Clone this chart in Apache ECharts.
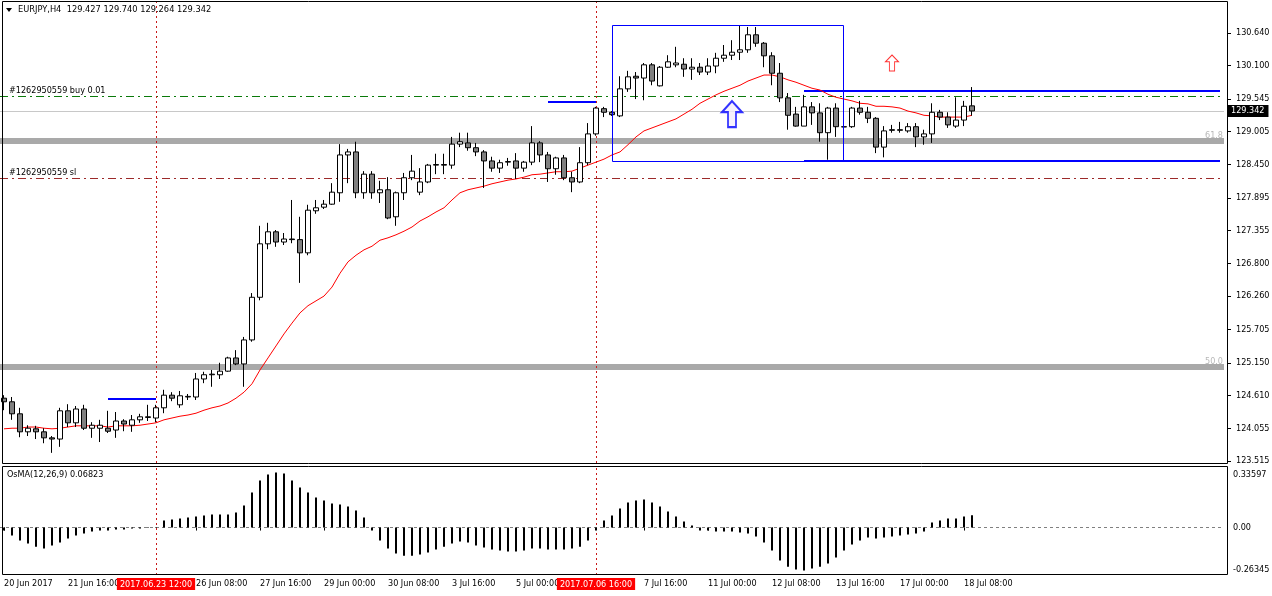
<!DOCTYPE html>
<html><head><meta charset="utf-8">
<script src="https://cdn.jsdelivr.net/npm/echarts@6/dist/echarts.min.js"></script>
<style>html,body{margin:0;padding:0;background:#fff}#c{width:1272px;height:596px}</style>
</head><body><div id="c"></div><script>
// ---- data (EURJPY H4) ----
const opens = [124.56,124.50,124.30,124.00,124.05,124.00,123.90,123.88,124.35,124.15,124.38,124.06,124.06,124.06,124.03,124.18,124.11,124.20,124.25,124.23,
124.40,124.61,124.45,124.58,124.58,124.88,124.95,124.95,125.01,125.23,125.13,125.53,126.24,127.13,127.33,127.16,127.21,127.20,126.98,127.68,
127.74,127.79,127.98,128.61,128.66,127.98,128.29,127.98,128.03,127.58,127.98,128.23,127.99,128.16,128.44,128.45,128.44,128.79,128.81,128.73,
128.66,128.51,128.39,128.49,128.51,128.39,128.49,128.81,128.61,128.38,128.56,128.23,128.16,128.48,128.96,129.38,129.32,129.26,129.71,129.92,
129.89,130.11,129.76,130.07,130.11,130.12,130.04,130.07,129.99,130.09,130.22,130.27,130.32,130.36,130.61,130.47,130.26,129.97,129.56,129.29,
129.09,129.41,129.31,128.98,129.39,129.08,129.08,129.39,129.32,129.22,128.74,129.03,129.02,129.01,129.08,128.91,128.96,129.32,129.24,129.09,
129.19,129.427];
const highs = [124.61,124.58,124.40,124.11,124.10,124.06,123.93,124.40,124.46,124.43,124.45,124.16,124.20,124.35,124.33,124.21,124.28,124.30,124.45,124.45,
124.70,124.66,124.68,124.63,124.98,125.00,125.03,125.15,125.25,125.36,125.58,126.31,127.43,127.48,127.36,127.31,127.86,127.58,127.78,127.86,
127.86,128.14,128.79,128.71,128.83,128.34,128.34,128.18,128.24,128.00,128.31,128.61,128.39,128.46,128.63,128.63,128.91,128.98,128.98,128.81,
128.69,128.58,128.53,128.56,128.64,128.51,129.09,128.84,128.66,128.58,128.61,128.33,128.74,129.14,129.41,129.41,129.34,129.92,130.01,129.99,
130.14,130.14,130.09,130.27,130.41,130.22,130.22,130.14,130.22,130.31,130.44,130.52,130.76,130.74,130.74,130.49,130.32,130.14,129.64,129.41,
129.61,129.49,129.47,129.41,129.47,129.09,129.41,129.51,129.41,129.24,129.09,129.11,129.16,129.14,129.14,129.03,129.47,129.36,129.32,129.57,
129.51,129.740];
const lows = [124.36,124.20,123.91,123.93,123.88,123.81,123.65,123.75,124.08,124.08,124.03,123.90,123.83,123.98,123.90,124.01,124.00,124.15,124.18,124.16,
124.31,124.51,124.40,124.53,124.53,124.81,124.75,124.88,125.00,125.11,124.75,125.50,126.19,127.04,127.08,127.11,127.14,126.48,126.94,127.63,
127.71,127.78,127.83,128.14,127.89,127.88,127.88,127.81,127.54,127.43,127.86,128.19,127.94,128.14,128.29,128.29,128.38,128.74,128.68,128.59,
128.06,128.33,128.31,128.43,128.21,128.33,128.44,128.49,128.16,128.28,128.19,127.99,128.14,128.44,128.93,129.24,129.26,129.24,129.66,129.54,
129.52,129.77,129.75,130.06,130.07,129.91,129.86,129.94,129.94,129.97,130.16,130.19,130.19,130.31,130.41,130.07,129.77,129.49,129.03,129.08,
129.09,129.11,128.83,128.53,128.91,129.06,129.06,129.28,129.14,128.64,128.57,128.98,128.98,128.98,128.74,128.78,128.81,129.19,129.06,129.06,
129.09,129.264];
const closes = [124.50,124.30,124.00,124.06,124.00,123.90,123.88,124.35,124.15,124.38,124.06,124.11,124.11,124.01,124.18,124.13,124.20,124.25,124.24,124.40,
124.61,124.56,124.60,124.59,124.88,124.95,124.96,125.01,125.23,125.13,125.53,126.24,127.13,127.33,127.16,127.21,127.20,126.98,127.69,127.73,
127.79,127.99,128.61,128.66,127.98,128.29,127.98,128.03,127.56,127.98,128.23,128.34,128.16,128.44,128.45,128.44,128.79,128.83,128.73,128.66,
128.51,128.39,128.48,128.50,128.39,128.49,128.81,128.61,128.38,128.56,128.23,128.16,128.48,128.96,129.39,129.32,129.28,129.71,129.91,129.89,
130.11,129.84,130.07,130.16,130.14,130.04,130.07,129.99,130.09,130.22,130.27,130.32,130.36,130.61,130.47,130.26,129.97,129.56,129.27,129.09,
129.41,129.31,128.98,129.39,129.08,129.075,129.39,129.32,129.22,128.74,129.01,129.02,129.03,129.08,128.91,128.96,129.32,129.24,129.11,129.19,
129.42,129.342];
const maValues = [124.05,124.06,124.06,124.08,124.08,124.06,124.05,124.06,124.08,124.10,124.10,124.10,124.10,124.08,124.10,124.10,124.10,124.11,124.13,124.15,
124.20,124.23,124.26,124.28,124.31,124.36,124.40,124.43,124.48,124.56,124.66,124.80,125.03,125.23,125.43,125.63,125.81,125.98,126.10,126.18,
126.26,126.41,126.64,126.83,126.94,127.03,127.09,127.19,127.23,127.28,127.34,127.41,127.51,127.58,127.66,127.73,127.86,127.98,128.03,128.06,
128.09,128.13,128.16,128.19,128.21,128.24,128.28,128.29,128.31,128.33,128.33,128.34,128.39,128.44,128.49,128.54,128.61,128.66,128.78,128.91,
129.01,129.06,129.11,129.16,129.21,129.29,129.37,129.47,129.54,129.61,129.67,129.72,129.77,129.84,129.89,129.94,129.94,129.91,129.86,129.82,
129.77,129.72,129.69,129.62,129.57,129.54,129.51,129.47,129.46,129.42,129.42,129.41,129.39,129.34,129.31,129.27,129.26,129.24,129.24,129.24,
129.24,129.27];
const osmaValues = [-0.017,-0.044,-0.072,-0.089,-0.106,-0.117,-0.100,-0.083,-0.061,-0.044,-0.033,-0.022,-0.017,-0.017,-0.011,-0.011,-0.006,-0.006,-0.002,0.003,
0.039,0.044,0.050,0.056,0.061,0.067,0.072,0.072,0.072,0.083,0.122,0.194,0.261,0.294,0.306,0.300,0.261,0.222,0.194,0.167,
0.150,0.133,0.128,0.117,0.094,0.056,-0.017,-0.072,-0.117,-0.144,-0.156,-0.156,-0.150,-0.139,-0.122,-0.106,-0.089,-0.078,-0.083,-0.100,
-0.111,-0.122,-0.128,-0.133,-0.133,-0.128,-0.117,-0.117,-0.122,-0.122,-0.122,-0.117,-0.106,-0.072,-0.017,0.039,0.067,0.106,0.139,0.150,
0.156,0.139,0.117,0.089,0.061,0.033,0.011,-0.017,-0.017,-0.022,-0.022,-0.022,-0.028,-0.033,-0.050,-0.083,-0.128,-0.183,-0.217,-0.233,
-0.239,-0.228,-0.217,-0.200,-0.167,-0.128,-0.094,-0.072,-0.056,-0.061,-0.056,-0.050,-0.044,-0.039,-0.033,-0.022,0.028,0.039,0.050,0.050,
0.061,0.068];
const timeLabels = {0:'20 Jun 2017',8:'21 Jun 16:00',24:'26 Jun 08:00',32:'27 Jun 16:00',40:'29 Jun 00:00',48:'30 Jun 08:00',
  56:'3 Jul 16:00',64:'5 Jul 00:00',80:'7 Jul 16:00',88:'11 Jul 00:00',96:'12 Jul 08:00',104:'13 Jul 16:00',112:'17 Jul 00:00',120:'18 Jul 08:00'};
const priceTicks = [130.640,130.100,129.545,129.005,128.450,127.895,127.355,126.800,126.260,125.705,125.150,124.610,124.055,123.515];
const osmaTicks = [0.33597,0,-0.26345];
const crosshairBars = ['19','74'];
const crosshairTexts = ['2017.06.23 12:00','2017.07.06 16:00'];
const lastPrice = 129.342;
const buyPrice = 129.591, slPrice = 128.226;
const fibLevels = [128.84, 125.08], fibNames = ['61.8','50.0'];
const blueSegments = [[['13',124.547],['19',124.547]],[['68',129.491],['74',129.491]],[['100',129.674],['152',129.674]],[['100',128.51],['152',128.51]]];
const boxCorners = [[76,130.773,105,128.51]];
const blueArrow = [['91',129.29]];
const redArrow = [['111',130.14]];
const N = 153;

const FONT = '"DejaVu Sans Condensed", "Liberation Sans", Arial, sans-serif';
const cats = Array.from({length:N},(_,i)=>String(i));
const candles = opens.map((o,i)=>[o, closes[i], lows[i], highs[i]]);
const chart = echarts.init(document.getElementById('c'));
const txt = {fontFamily:FONT, fontSize:9, color:'#000'};

const option = {
  animation:false,
  backgroundColor:'#fff',
  grid:[
    {left:0, right:48, top:2, height:461, outerBoundsMode:'none', containLabel:false},
    {left:0, right:48, top:467, height:108, outerBoundsMode:'none', containLabel:false}
  ],
  xAxis:[
    {type:'category', gridIndex:0, data:cats, boundaryGap:true, axisLine:{show:false}, axisTick:{show:false}, axisLabel:{show:false}, splitLine:{show:false}},
    {type:'category', gridIndex:1, data:cats, boundaryGap:true, axisLine:{show:false},
      axisTick:{show:true, alignWithLabel:true, length:3, lineStyle:{color:'#000'}, interval:(i)=>timeLabels[i]!==undefined},
      axisLabel:Object.assign({interval:(i)=>timeLabels[i]!==undefined, formatter:(v,i)=>timeLabels[i]||'', align:'left', margin:4}, txt),
      splitLine:{show:false}}
  ],
  yAxis:[
    {type:'value', gridIndex:0, position:'right', offset:4, min:123.481, max:131.156, scale:true,
      axisLine:{show:false}, splitLine:{show:false},
      axisTick:{show:true, length:3, lineStyle:{color:'#000'}, customValues:priceTicks},
      axisLabel:Object.assign({customValues:priceTicks, formatter:(v)=>v.toFixed(3), margin:8}, txt)},
    {type:'value', gridIndex:1, position:'right', offset:4, min:-0.26345, max:0.33597,
      axisLine:{show:false}, splitLine:{show:false},
      axisTick:{show:false},
      axisLabel:Object.assign({customValues:osmaTicks, margin:5,
        formatter:(v)=> v===0 ? '{z|0.00}' : (v>0 ? '{t|'+v.toFixed(5)+'}' : '{b|'+v.toFixed(5)+'}'),
        rich:{t:{fontFamily:FONT,fontSize:9,color:'#000',padding:[16,0,0,0]}, b:{fontFamily:FONT,fontSize:9,color:'#000',padding:[0,0,10,0]}, z:{fontFamily:FONT,fontSize:9,color:'#000'}}}, txt)}
  ],
  graphic:[
    {type:'rect', shape:{x:2.5,y:1.5,width:1225,height:462}, style:{fill:'none',stroke:'#000',lineWidth:1}, z:50, silent:true},
    {type:'rect', shape:{x:2.5,y:466.5,width:1225,height:108}, style:{fill:'none',stroke:'#000',lineWidth:1}, z:50, silent:true},
    {type:'polygon', shape:{points:[[6,8],[12,8],[9,12]]}, style:{fill:'#000'}, z:60},
    {type:'text', left:18, top:5, style:{text:'EURJPY,H4  129.427 129.740 129.264 129.342', font:'9.2px '+FONT, fill:'#000'}, z:60},
    {type:'text', left:7, top:470, style:{text:'OsMA(12,26,9) 0.06823', font:'9px '+FONT, fill:'#000'}, z:60}
  ],
  series:[
    {type:'candlestick', xAxisIndex:0, yAxisIndex:0, data:candles, barWidth:5,
      itemStyle:{color:'#ffffff', color0:'#808080', borderColor:'#000', borderColor0:'#000', borderWidth:1},
      z:5,
      markLine:{symbol:['none','none'], silent:true, animation:false, z:3,
        data:[
          {yAxis:fibLevels[0], lineStyle:{color:'#a9a9a9',width:6,type:'solid'}, label:{show:true, position:'insideEndTop', formatter:fibNames[0], color:'#b8b8b8', fontFamily:FONT, fontSize:9, distance:[1,1]}},
          {yAxis:fibLevels[1], lineStyle:{color:'#a9a9a9',width:6,type:'solid'}, label:{show:true, position:'insideEndTop', formatter:fibNames[1], color:'#b8b8b8', fontFamily:FONT, fontSize:9, distance:[1,1]}},
          {yAxis:lastPrice, lineStyle:{color:'#c8c8c8',width:1,type:'solid'}, label:{show:true, position:'end', formatter:lastPrice.toFixed(3), color:'#fff', backgroundColor:'#000', padding:[2,4,1,3], fontFamily:FONT, fontSize:9, distance:4}},
          {yAxis:buyPrice, lineStyle:{color:'#0a7a0a',width:1,type:[8,4,2,4]}, label:{show:true, position:'insideStartTop', formatter:'#1262950559 buy 0.01', color:'#000', fontFamily:FONT, fontSize:9, distance:[9,1]}},
          {yAxis:slPrice, lineStyle:{color:'#9c2a2a',width:1,type:[8,4,2,4]}, label:{show:true, position:'insideStartTop', formatter:'#1262950559 sl', color:'#000', fontFamily:FONT, fontSize:9, distance:[9,1]}},
          {xAxis:crosshairBars[0], lineStyle:{color:'#c81818',width:1,type:[2,3]}, label:{show:false}},
          {xAxis:crosshairBars[1], lineStyle:{color:'#c81818',width:1,type:[2,3]}, label:{show:false}}
        ].concat(blueSegments.map(s=>[{coord:s[0], lineStyle:{color:'#0000ff',width:2,type:'solid'}, label:{show:false}},{coord:s[1]}]))
      }
    },
    {type:'custom', xAxisIndex:0, yAxisIndex:0, data:boxCorners, encode:{x:0, y:1}, z:6, silent:true,
      renderItem:(params, api)=>{
        const p1 = api.coord([api.value(0), api.value(1)]);
        const p2 = api.coord([api.value(2), api.value(3)]);
        const x = Math.round(p1[0])+0.5, y = Math.round(p1[1])+0.5;
        return {type:'rect', shape:{x:x, y:y, width:Math.round(p2[0]-p1[0])-1, height:Math.round(p2[1]-p1[1])},
          style:{fill:'none', stroke:'#0000ff', lineWidth:1}};
      }},
    {type:'line', xAxisIndex:0, yAxisIndex:0, data:maValues, symbol:'none', lineStyle:{color:'#ff0000', width:1}, z:4},
    {type:'scatter', xAxisIndex:0, yAxisIndex:0, data:blueArrow, symbol:'path://M10,0 L20,11 L14,11 L14,26 L6,26 L6,11 L0,11 Z', symbolSize:[20,26],
      itemStyle:{color:'#f4eefc', borderColor:'#0000ff', borderWidth:2}, z:8},
    {type:'scatter', xAxisIndex:0, yAxisIndex:0, data:redArrow, symbol:'path://M10,0 L20,11 L14,11 L14,26 L6,26 L6,11 L0,11 Z', symbolSize:[13,16],
      itemStyle:{color:'#ffffff', borderColor:'#ff0000', borderWidth:1}, z:8},
    {type:'bar', xAxisIndex:1, yAxisIndex:1, data:osmaValues, barWidth:2, itemStyle:{color:'#000'}, z:5,
      markLine:{symbol:['none','none'], silent:true, animation:false,
        data:[
          {yAxis:0, lineStyle:{color:'#808080',width:1,type:[3,3]}, label:{show:false}},
          {xAxis:crosshairBars[0], lineStyle:{color:'#c81818',width:1,type:[2,3]}, label:{show:true, position:'start', formatter:crosshairTexts[0], color:'#fff', backgroundColor:'#ff0000', padding:[2,3,1,3], fontFamily:FONT, fontSize:9, distance:3}},
          {xAxis:crosshairBars[1], lineStyle:{color:'#c81818',width:1,type:[2,3]}, label:{show:true, position:'start', formatter:crosshairTexts[1], color:'#fff', backgroundColor:'#ff0000', padding:[2,3,1,3], fontFamily:FONT, fontSize:9, distance:3}}
        ]}
    }
  ]
};
chart.setOption(option);
</script></body></html>
